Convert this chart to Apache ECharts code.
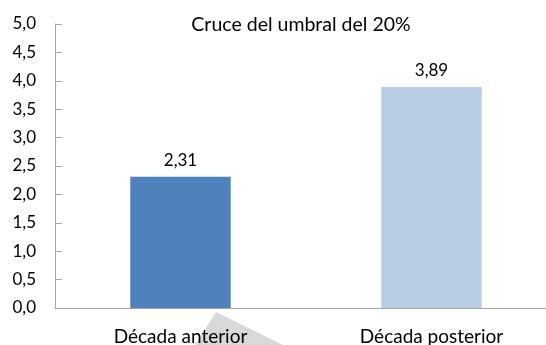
<!DOCTYPE html>
<html>
<head>
<meta charset="utf-8">
<script src="https://cdn.jsdelivr.net/npm/echarts@6/dist/echarts.min.js"></script>
<style>
  html, body { margin: 0; padding: 0; background: #fff; }
  #chart { width: 546px; height: 345px; }
</style>
</head>
<body>
<div id="chart"></div>
<script>
const categories = ['Década anterior', 'Década posterior'];
const values = [2.31, 3.89];
const barColors = ['#4f81bd', '#b9cde5'];
const chartTitle = 'Cruce del umbral del 20%';

const fmt = v => v.toFixed(2).replace('.', ',');
const FONT = 'Lato';

const chart = echarts.init(document.getElementById('chart'), null, { renderer: 'canvas' });
chart.setOption({
  animation: false,
  backgroundColor: '#ffffff',
  textStyle: { fontFamily: FONT },
  grid: {
    left: 55, top: 24, bottom: 37, width: 502,
    containLabel: false, outerBoundsMode: 'none'
  },
  graphic: [
    {
      // light grey wedge behind the first category label
      type: 'polygon',
      z: 0,
      shape: { points: [[216, 312], [283, 345], [195, 345]] },
      style: { fill: '#d9d9d9' }
    },
    {
      type: 'text',
      x: 301, y: 25,
      style: {
        text: chartTitle,
        fontFamily: FONT, fontSize: 19.5, fill: '#000',
        textAlign: 'center', textVerticalAlign: 'middle'
      }
    }
  ],
  xAxis: {
    type: 'category',
    data: categories,
    z: 5,
    axisLine: { lineStyle: { color: '#a6a6a6', width: 1 } },
    axisTick: { inside: true, length: 5, lineStyle: { color: '#a6a6a6' } },
    axisLabel: { color: '#000', fontSize: 19, fontFamily: FONT, margin: 19 }
  },
  yAxis: {
    type: 'value',
    min: 0, max: 5, interval: 0.5,
    axisLine: { show: true, lineStyle: { color: '#a6a6a6', width: 1 } },
    axisTick: { show: true, inside: true, length: 7, lineStyle: { color: '#a6a6a6' } },
    splitLine: { show: false },
    axisLabel: {
      color: '#000', fontSize: 17, fontFamily: FONT, margin: 19,
      formatter: v => v.toFixed(1).replace('.', ',')
    }
  },
  series: [{
    type: 'bar',
    data: values.map((v, i) => ({ value: v, itemStyle: { color: barColors[i] } })),
    barWidth: '40%',
    label: {
      show: true, position: 'top', distance: 8,
      color: '#000', fontSize: 17, fontFamily: FONT,
      formatter: p => fmt(p.value)
    }
  }]
});
</script>
</body>
</html>
